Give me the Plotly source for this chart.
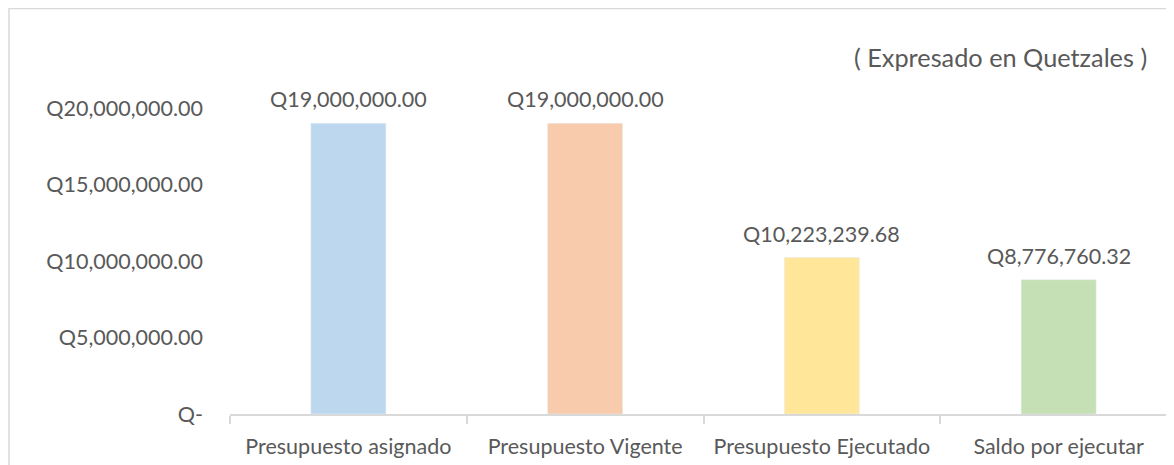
import plotly.graph_objects as go

categories = ["Presupuesto asignado", "Presupuesto Vigente", "Presupuesto Ejecutado", "Saldo por ejecutar"]
values = [19000000.00, 19000000.00, 10223239.68, 8776760.32]
value_labels = ["Q19,000,000.00", "Q19,000,000.00", "Q10,223,239.68", "Q8,776,760.32"]
bar_colors = ["#BDD7EE", "#F8CBAD", "#FFE699", "#C5E0B4"]
y_tickvals = [0, 5000000, 10000000, 15000000, 20000000]
y_ticktext = ["Q-", "Q5,000,000.00", "Q10,000,000.00", "Q15,000,000.00", "Q20,000,000.00"]
subtitle = "( Expresado en Quetzales )"

# page body has an 8px margin: figure is placed at (8, 8) on screen
OFF = 8
W, H = 1174 - OFF, 465 - OFF
FONT = "Lato"
TXT = "#595959"
FS = 21.5

fig = go.Figure(go.Bar(
    x=categories, y=values, marker_color=bar_colors,
    hoverinfo="x+y",
))

px0, px1 = 230 - OFF, 1174 - OFF
py_bottom, py_top = 414 - OFF, 108 - OFF

annotations = [dict(
    text=lab, x=c, y=v, xref="x", yref="y",
    xanchor="center", yanchor="middle", yshift=24,
    showarrow=False, font=dict(family=FONT, size=FS, color=TXT),
) for c, v, lab in zip(categories, values, value_labels)]
annotations.append(dict(
    text=subtitle, xref="paper", yref="paper",
    x=(1000 - OFF) / W, y=1 - (57 - OFF) / H, xanchor="center", yanchor="middle",
    showarrow=False, font=dict(family=FONT, size=25.3, color=TXT),
))

fig.update_layout(
    width=W, height=H,
    margin=dict(l=0, r=0, t=0, b=0),
    paper_bgcolor="white", plot_bgcolor="white",
    showlegend=False,
    bargap=1 - 75 / 236.75,
    font=dict(family=FONT, size=FS, color=TXT),
    xaxis=dict(
        domain=[px0 / W, px1 / W],
        range=[-0.5, 3.5 - 3 / 236.75],
        showline=True, linecolor="#D9D9D9", linewidth=1.5,
        ticks="outside", tickson="boundaries", ticklen=8, tickcolor="#D9D9D9", tickwidth=1.5,
        tickfont=dict(family=FONT, size=FS, color=TXT),
        showgrid=False, zeroline=False, automargin=False,
        ticklabelstandoff=12,
    ),
    yaxis=dict(
        domain=[1 - py_bottom / H, 1 - py_top / H],
        range=[0, 20000000],
        tickvals=y_tickvals, ticktext=y_ticktext,
        showline=False, showgrid=False, zeroline=False,
        tickfont=dict(family=FONT, size=FS, color=TXT),
        ticklabelstandoff=26, automargin=False,
    ),
    shapes=[dict(
        type="rect", xref="paper", yref="paper",
        x0=(9 - OFF) / W, x1=1.2, y0=-0.2, y1=1 - (8.5 - OFF) / H,
        line=dict(color="#D9D9D9", width=1.5), fillcolor="rgba(0,0,0,0)", layer="below",
    )],
    annotations=annotations,
)

fig.write_html("out.html")
